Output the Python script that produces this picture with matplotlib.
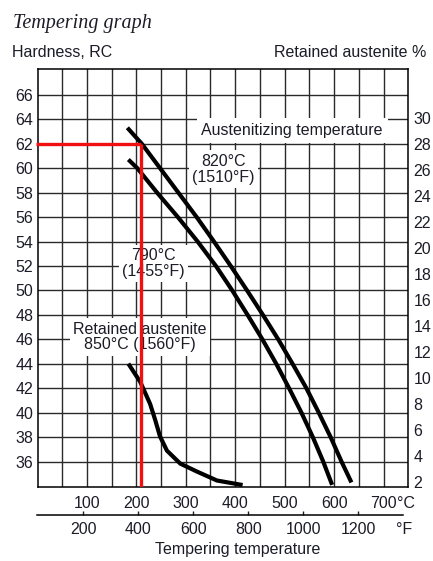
import matplotlib
matplotlib.use("Agg")
import matplotlib.pyplot as plt
from matplotlib.ticker import FixedLocator, NullFormatter

plt.rcParams['font.family'] = ['Liberation Sans', 'DejaVu Sans']
plt.rcParams['font.size'] = 11.5

# Hardness after tempering, austenitized at 820°C (upper curve)
temp_820 = [182, 211, 248, 285, 322, 357, 391, 424, 456, 487, 516, 544, 569, 593, 615, 635]
hrc_820 = [63.3, 62.0, 60, 58, 56, 54, 52, 50, 48, 46, 44, 42, 40, 38, 36, 34.3]

# Hardness after tempering, austenitized at 790°C (lower curve)
temp_790 = [184, 202, 242, 284, 324, 361, 394, 425, 455, 483, 509, 534, 557, 578, 596]
hrc_790 = [60.7, 60, 58, 56, 54, 52, 50, 48, 46, 44, 42, 40, 38, 36, 34.1]

# Retained austenite (%), austenitized at 850°C -> right axis
temp_ra = [184, 208, 228, 238, 248, 262, 289, 322, 363, 415]
ra_pct = [11.1, 9.7, 8.0, 6.8, 5.5, 4.4, 3.4, 2.8, 2.1, 1.75]

# Red reading lines: 62 HRC -> tempering temperature
hrc_target = 62
temp_target = 209

# Axes ticks
c_ticks = [100, 200, 300, 400, 500, 600, 700]
c_labels = ["100", "200", "300", "400", "500", "600", "700"]
c_minor = [50, 150, 250, 350, 450, 550, 650]
f_ticks = [200, 400, 600, 800, 1000, 1200]
hrc_ticks = list(range(36, 67, 2))
ra_ticks = list(range(2, 31, 2))

text_col = "#1c1c28"
grid_col = "#2a2a2a"
fs = 11.5


def c2f(c):
    return c * 9 / 5 + 32


def f2c(f):
    return (f - 32) * 5 / 9


fig = plt.figure(figsize=(4.33, 5.61), dpi=100)
ax = fig.add_axes([0.0885, 0.1324, 0.8545, 0.7445])
ax.set_xlim(2, 750)
ax.set_ylim(33.95, 68.1)

ax2 = ax.twinx()
ax2.set_ylim(1.62, 33.8)

# grid
ax.set_xticks(c_ticks)
ax.set_xticklabels(c_labels)
ax.xaxis.set_minor_locator(FixedLocator(c_minor))
ax.xaxis.set_minor_formatter(NullFormatter())
ax.set_yticks(hrc_ticks)
ax.grid(True, which="both", color=grid_col, linewidth=1.0)
ax.set_axisbelow(True)
ax.tick_params(axis="both", which="both", length=0, colors=text_col)
ax.tick_params(axis="x", pad=7, labelsize=fs)
ax.tick_params(axis="y", pad=3.6, labelsize=fs)
for s in ax.spines.values():
    s.set_linewidth(1.1)
    s.set_color("black")

ax2.set_yticks(ra_ticks)
ax2.tick_params(axis="y", length=0, pad=3.6, labelsize=fs, colors=text_col)
for s in ax2.spines.values():
    s.set_visible(False)

# curves
curve_kw = dict(color="black", linewidth=3.0, solid_capstyle="butt", solid_joinstyle="round", zorder=4)
ax.plot(temp_820, hrc_820, **curve_kw)
ax.plot(temp_790, hrc_790, **curve_kw)
ax.plot(temp_ra, ra_pct, transform=ax2.transData, **curve_kw)

# red reading lines
x0 = ax.get_xlim()[0] - 4
ax.plot([x0, temp_target], [hrc_target, hrc_target], color="#f01010", linewidth=2.4,
        solid_capstyle="butt", zorder=5, clip_on=False)
ax.plot([temp_target, temp_target], [hrc_target, ax.get_ylim()[0]], color="#f01010",
        linewidth=2.4, solid_capstyle="butt", zorder=5)

# labels inside the chart
box = dict(facecolor="white", edgecolor="none", pad=2.5)
ax.text(515, 63.1, "Austenitizing temperature", ha="center", va="center", color=text_col,
        fontsize=fs, bbox=dict(facecolor="white", edgecolor="none", pad=3.5), zorder=3)
ax.text(376, 59.9, "820°C\n(1510°F)", ha="center", va="center", color=text_col,
        fontsize=fs, bbox=box, zorder=3, linespacing=1.1)
ax.text(235, 52.2, "790°C\n(1455°F)", ha="center", va="center", color=text_col,
        fontsize=fs, bbox=box, zorder=3, linespacing=1.05)
ax.text(208, 46.2, "Retained austenite\n850°C (1560°F)", ha="center", va="center", color=text_col,
        fontsize=fs, bbox=box, zorder=3, linespacing=1.05)

# °C unit after the last tick label
ax.annotate("°C", xy=(700, 0), xycoords=("data", "axes fraction"), xytext=(9.5, -7),
            textcoords="offset points", ha="left", va="top", fontsize=fs, color=text_col)

# °F scale below
secax = ax.secondary_xaxis(-0.0678, functions=(c2f, f2c))
secax.set_xticks(f_ticks)
secax.tick_params(direction="in", length=3, width=1, pad=5, labelsize=fs, colors=text_col)
secax.spines["bottom"].set_bounds(c2f(-1), c2f(740))
secax.spines["bottom"].set_linewidth(1.1)
ax.text(0.988, -0.1013, "°F", transform=ax.transAxes, ha="center", va="center",
        fontsize=fs, color=text_col)
ax.text(0.54, -0.1515, "Tempering temperature", transform=ax.transAxes, ha="center",
        va="center", fontsize=fs, color=text_col)

# headings
fig.text(13 / 433, 1 - 28 / 561, "Tempering graph", family="Liberation Serif", style="italic",
         fontsize=14.5, va="baseline", color=text_col)
fig.text(11.7 / 433, 1 - 57.3 / 561, "Hardness, RC", va="baseline", fontsize=fs, color=text_col)
fig.text(426.7 / 433, 1 - 57.3 / 561, "Retained austenite %", ha="right", va="baseline",
         fontsize=fs, color=text_col)

fig.savefig("out.png", dpi=100)
